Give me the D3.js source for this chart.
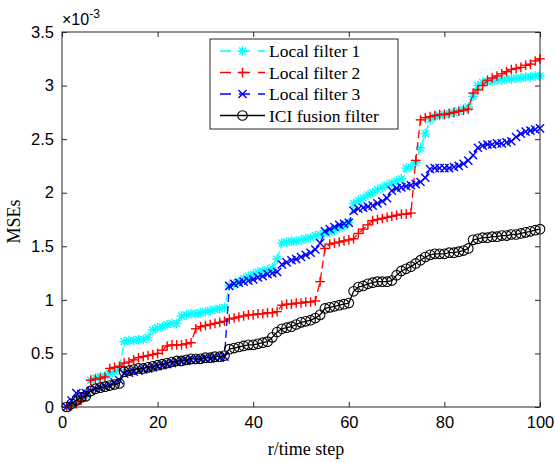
<!DOCTYPE html>
<html><head><meta charset="utf-8">
<script src="https://cdn.jsdelivr.net/npm/d3@7"></script>
<style>body{margin:0;background:#fff}</style>
</head><body>
<svg id="chart" width="555" height="462"></svg>
<script>
const steps = d3.range(1, 101);
const xTicks = [0, 20, 40, 60, 80, 100];
const yTicks = [0, 0.5, 1, 1.5, 2, 2.5, 3, 3.5];
const yTickLabels = ["0", "0.5", "1", "1.5", "2", "2.5", "3", "3.5"];
const seriesNames = ["Local filter 1", "Local filter 2", "Local filter 3", "ICI fusion filter"];
// values in units of 1e-3
const local1 = [0,0.02,0.05,0.08,0.1,0.25,0.27,0.28,0.29,0.31,0.33,0.35,0.61,0.62,0.62,0.63,0.63,0.65,0.72,0.74,
0.75,0.77,0.78,0.78,0.85,0.86,0.87,0.87,0.88,0.89,0.9,0.91,0.92,0.93,1.13,1.15,1.17,1.2,1.22,1.24,
1.26,1.27,1.28,1.3,1.38,1.53,1.54,1.55,1.55,1.56,1.57,1.58,1.6,1.61,1.62,1.63,1.65,1.67,1.69,1.72,
1.9,1.93,1.95,1.98,2.0,2.03,2.05,2.07,2.09,2.11,2.13,2.23,2.24,2.28,2.42,2.55,2.68,2.71,2.72,2.73,
2.74,2.75,2.76,2.78,2.8,2.9,3.0,3.03,3.04,3.04,3.05,3.05,3.06,3.06,3.07,3.07,3.08,3.08,3.09,3.09];
const local2 = [0,0.01,0.03,0.06,0.1,0.25,0.26,0.27,0.28,0.36,0.37,0.38,0.41,0.42,0.44,0.46,0.47,0.48,0.49,0.5,
0.53,0.57,0.58,0.58,0.58,0.59,0.6,0.73,0.75,0.76,0.77,0.78,0.79,0.8,0.82,0.83,0.84,0.85,0.86,0.86,
0.87,0.87,0.88,0.88,0.89,0.95,0.96,0.96,0.97,0.97,0.98,0.98,0.99,1.17,1.48,1.52,1.53,1.54,1.55,1.56,
1.57,1.62,1.66,1.7,1.74,1.75,1.76,1.77,1.78,1.79,1.8,1.8,1.81,2.3,2.68,2.7,2.71,2.72,2.73,2.73,
2.74,2.75,2.76,2.77,2.78,2.93,2.96,3.0,3.05,3.07,3.09,3.11,3.13,3.15,3.16,3.17,3.19,3.2,3.23,3.25];
const local3 = [0,0.06,0.13,0.12,0.13,0.15,0.17,0.18,0.19,0.2,0.23,0.25,0.31,0.32,0.33,0.34,0.35,0.36,0.37,0.38,
0.39,0.4,0.41,0.42,0.43,0.43,0.44,0.44,0.45,0.45,0.45,0.46,0.46,0.47,1.13,1.15,1.16,1.17,1.18,1.19,
1.21,1.22,1.24,1.25,1.26,1.33,1.35,1.37,1.38,1.4,1.42,1.44,1.47,1.53,1.64,1.66,1.68,1.7,1.71,1.72,
1.83,1.85,1.86,1.87,1.88,1.9,1.92,1.95,2.02,2.04,2.05,2.06,2.07,2.08,2.1,2.14,2.22,2.23,2.23,2.23,
2.23,2.24,2.25,2.27,2.3,2.35,2.42,2.44,2.45,2.45,2.46,2.46,2.47,2.48,2.52,2.55,2.57,2.58,2.59,2.6];
const iciFusion = [0,0.03,0.06,0.09,0.1,0.15,0.17,0.18,0.19,0.2,0.21,0.22,0.33,0.34,0.35,0.36,0.36,0.37,0.38,0.39,
0.4,0.41,0.42,0.43,0.43,0.44,0.45,0.45,0.45,0.46,0.46,0.47,0.47,0.48,0.54,0.55,0.56,0.57,0.58,0.58,
0.59,0.6,0.61,0.65,0.7,0.73,0.74,0.75,0.77,0.79,0.8,0.81,0.83,0.86,0.92,0.93,0.94,0.95,0.96,0.97,
1.08,1.12,1.13,1.15,1.16,1.17,1.17,1.17,1.18,1.23,1.27,1.29,1.31,1.34,1.37,1.4,1.42,1.43,1.43,1.43,
1.44,1.44,1.45,1.46,1.48,1.56,1.57,1.58,1.58,1.59,1.59,1.6,1.6,1.61,1.61,1.62,1.63,1.64,1.65,1.66];

const series = [
  {name: seriesNames[0], values: local1, color: "#00ffff", marker: "star", dash: "8,4"},
  {name: seriesNames[1], values: local2, color: "#ff0000", marker: "plus", dash: "8,4"},
  {name: seriesNames[2], values: local3, color: "#0000ff", marker: "cross", dash: "8,4"},
  {name: seriesNames[3], values: iciFusion, color: "#000000", marker: "circle", dash: null}
];

const svg = d3.select("#chart");
const L = 62, R = 540, T = 32, B = 407;
const x = d3.scaleLinear().domain([0, 100]).range([L, R]);
const y = d3.scaleLinear().domain([0, 3.5]).range([B, T]);
const axisColor = "#262626";
const font = "'Liberation Sans', Arial, sans-serif";
const serif = "'Liberation Serif', 'DejaVu Serif', serif";

svg.append("clipPath").attr("id", "clip").append("rect")
  .attr("x", L - 6).attr("y", T - 6).attr("width", R - L + 12).attr("height", B - T + 12);

const line = d3.line().x((d, i) => x(steps[i])).y(d => y(d));
const ms = 4.8;
function drawMarker(g, type, cx, cy, color) {
  if (type === "circle") {
    g.append("circle").attr("cx", cx).attr("cy", cy).attr("r", 4.8)
      .attr("fill", "none").attr("stroke", color).attr("stroke-width", 1.1);
  } else {
    const segs = [];
    if (type === "plus" || type === "star") { segs.push([-ms, 0, ms, 0], [0, -ms, 0, ms]); }
    if (type === "cross" || type === "star") {
      const k = type === "star" ? ms * 0.72 : ms * 0.85;
      segs.push([-k, -k, k, k], [-k, k, k, -k]);
    }
    segs.forEach(s => g.append("line")
      .attr("x1", cx + s[0]).attr("y1", cy + s[1]).attr("x2", cx + s[2]).attr("y2", cy + s[3])
      .attr("stroke", color).attr("stroke-width", 1.4));
  }
}
const plot = svg.append("g").attr("clip-path", "url(#clip)");
series.forEach(s => {
  const g = plot.append("g");
  g.append("path").attr("d", line(s.values)).attr("fill", "none")
    .attr("stroke", s.color).attr("stroke-width", 1.3)
    .attr("stroke-dasharray", s.dash);
  s.values.forEach((v, i) => drawMarker(g, s.marker, x(steps[i]), y(v), s.color));
});

const ax = svg.append("g").attr("stroke", axisColor).attr("fill", "none");
ax.append("rect").attr("x", L).attr("y", T).attr("width", R - L).attr("height", B - T).attr("stroke-width", 1);

const xAxis = d3.axisBottom(x).tickValues(xTicks).tickSize(-5).tickPadding(9).tickFormat(d3.format("d"));
const gx = svg.append("g").attr("transform", `translate(0,${B})`).call(xAxis);
gx.select(".domain").remove();
gx.selectAll("line").attr("stroke", axisColor);
gx.selectAll("text").attr("font-family", font).attr("font-size", 16.5).attr("fill", "#000").attr("dy", "0.75em");

const xTop = d3.axisTop(x).tickValues(xTicks).tickSize(-5).tickFormat("");
const gxt = svg.append("g").attr("transform", `translate(0,${T})`).call(xTop);
gxt.select(".domain").remove(); gxt.selectAll("line").attr("stroke", axisColor);

const yAxis = d3.axisLeft(y).tickValues(yTicks).tickSize(-5).tickPadding(8).tickFormat((d, i) => yTickLabels[i]);
const gy = svg.append("g").attr("transform", `translate(${L},0)`).call(yAxis);
gy.select(".domain").remove();
gy.selectAll("line").attr("stroke", axisColor);
gy.selectAll("text").attr("font-family", font).attr("font-size", 16.5).attr("fill", "#000");

const yRight = d3.axisRight(y).tickValues(yTicks).tickSize(-5).tickFormat("");
const gyr = svg.append("g").attr("transform", `translate(${R},0)`).call(yRight);
gyr.select(".domain").remove(); gyr.selectAll("line").attr("stroke", axisColor);

const ex = svg.append("text").attr("x", 62).attr("y", 25).attr("font-family", font).attr("font-size", 16).attr("fill", "#000");
ex.append("tspan").text("\u00d710");
ex.append("tspan").attr("dy", -7).attr("font-size", 12).text("-3");

svg.append("text").attr("x", (L + R) / 2 + 5).attr("y", 455).attr("text-anchor", "middle")
  .attr("font-family", serif).attr("font-size", 18).attr("fill", "#000").text("r/time step");
svg.append("text").attr("transform", `translate(20,${(T + B) / 2 + 2}) rotate(-90)`).attr("text-anchor", "middle")
  .attr("font-family", serif).attr("font-size", 18).attr("fill", "#000").text("MSEs");

const lg = svg.append("g");
lg.append("rect").attr("x", 210).attr("y", 39).attr("width", 188).attr("height", 90)
  .attr("fill", "#fff").attr("stroke", axisColor).attr("stroke-width", 1);
series.forEach((s, i) => {
  const yy = 51 + i * 21.5;
  lg.append("line").attr("x1", 220).attr("x2", 265).attr("y1", yy).attr("y2", yy)
    .attr("stroke", s.color).attr("stroke-width", 1.3).attr("stroke-dasharray", s.dash ? "11,8" : null);
  drawMarker(lg, s.marker, 242.5, yy, s.color);
  lg.append("text").attr("x", 269).attr("y", yy).attr("dy", "0.35em")
    .attr("font-family", serif).attr("font-size", 17.5).attr("fill", "#000").text(s.name);
});
</script>
</body></html>
